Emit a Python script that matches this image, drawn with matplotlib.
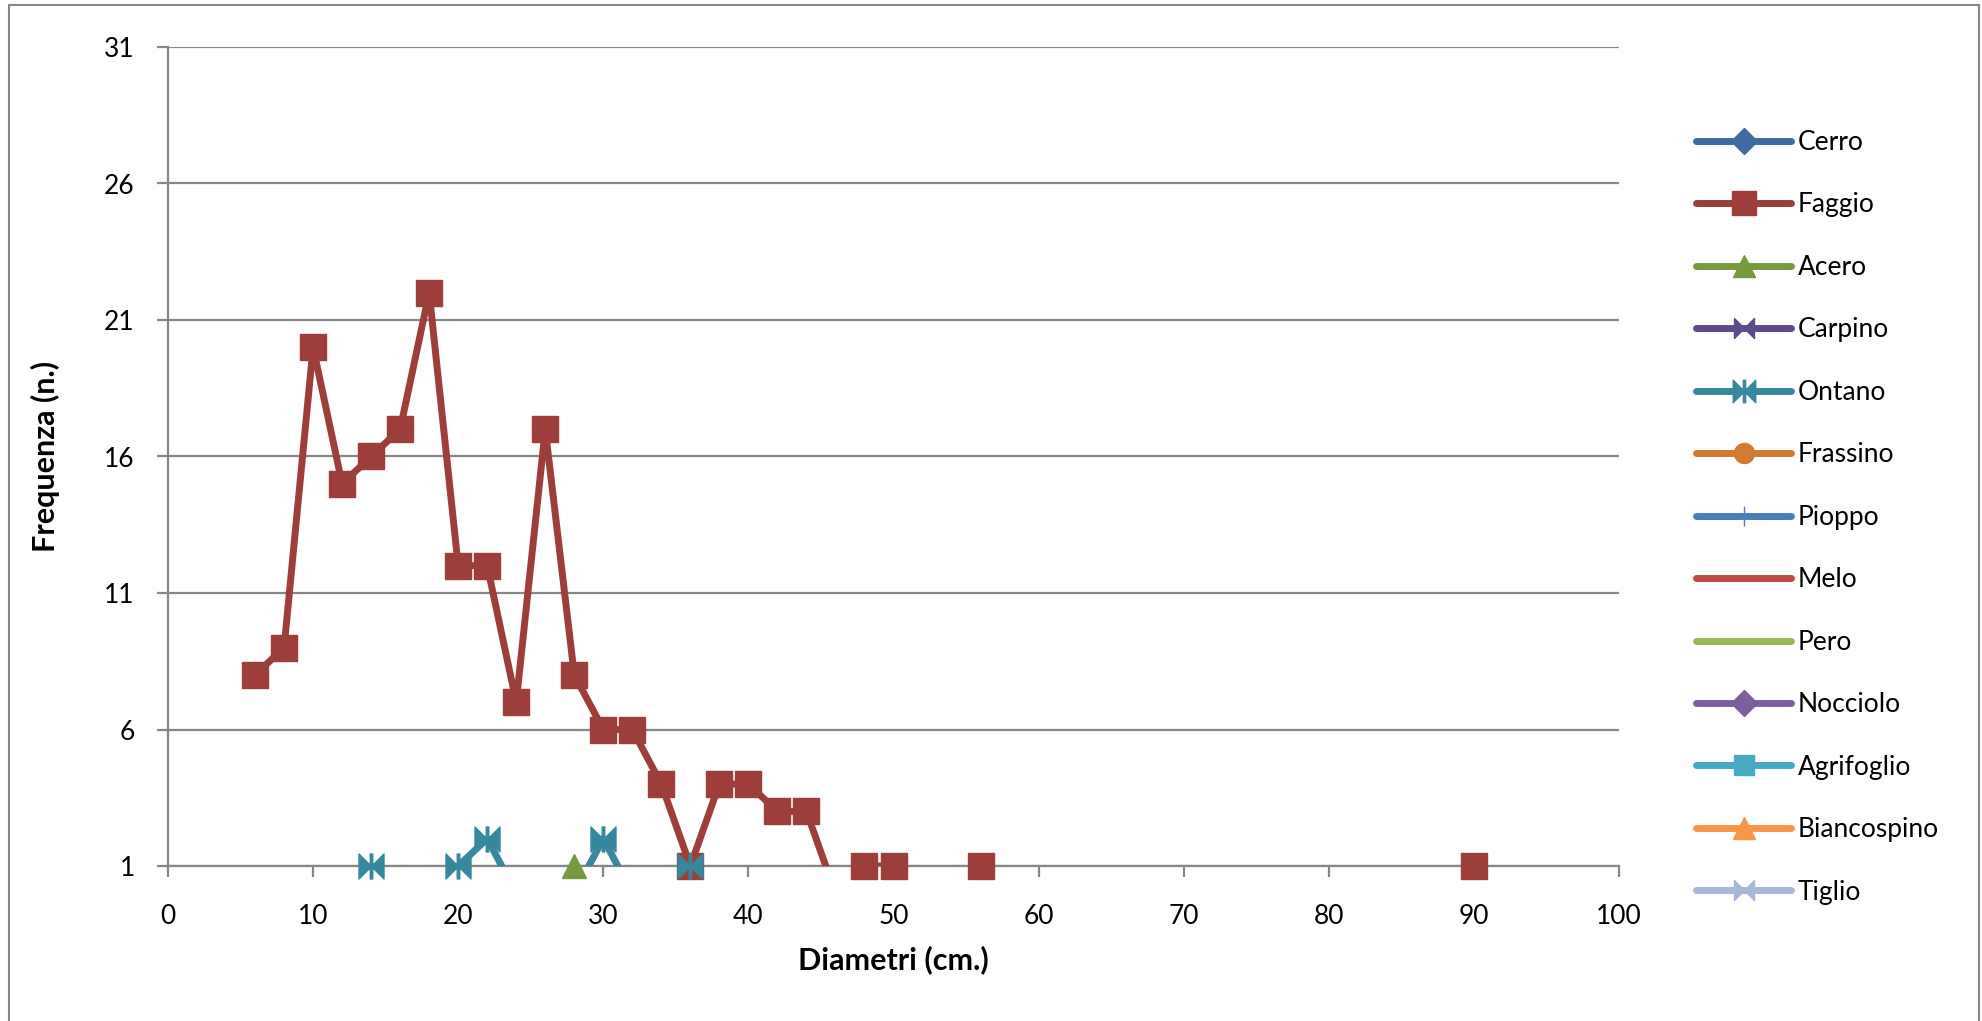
import matplotlib
matplotlib.use("Agg")
import matplotlib.pyplot as plt
from matplotlib.lines import Line2D
from matplotlib.patches import Rectangle
from matplotlib.path import Path
import numpy as np

plt.rcParams['font.family'] = ['Lato', 'DejaVu Sans']

# species in legend order
specie = ["Cerro", "Faggio", "Acero", "Carpino", "Ontano", "Frassino", "Pioppo",
          "Melo", "Pero", "Nocciolo", "Agrifoglio", "Biancospino", "Tiglio"]

# diameter classes (cm) and counts, only series with visible values
diam_faggio = [6, 8, 10, 12, 14, 16, 18, 20, 22, 24, 26, 28, 30, 32, 34, 36, 38, 40,
               42, 44, 46, 48, 50, 52, 54, 56, 58, 88, 90]
freq_faggio = [8, 9, 20, 15, 16, 17, 22, 12, 12, 7, 17, 8, 6, 6, 4, 1, 4, 4,
               3, 3, 0, 1, 1, 0, 0, 1, 0, 0, 1]

diam_ontano = [12, 14, 16, 18, 20, 22, 24, 28, 30, 32, 34, 36, 38]
freq_ontano = [0, 1, 0, 0, 1, 2, 0, 0, 2, 0, 0, 1, 0]

diam_acero = [28]
freq_acero = [1]

dati = {
    "Faggio": (diam_faggio, freq_faggio),
    "Ontano": (diam_ontano, freq_ontano),
    "Acero": (diam_acero, freq_acero),
}

# excel-like markers
bowtie = Path([(-1, -1), (-1, 1), (0, 0), (-1, -1),
               (1, 1), (1, -1), (0, 0), (1, 1)],
              [Path.MOVETO, Path.LINETO, Path.LINETO, Path.CLOSEPOLY,
               Path.MOVETO, Path.LINETO, Path.LINETO, Path.CLOSEPOLY])
star = Path([(-1, -1), (-1, 1), (0, 0), (-1, -1),
             (1, 1), (1, -1), (0, 0), (1, 1),
             (-0.1, -1), (-0.1, 1), (0.1, 1), (0.1, -1), (-0.1, -1)],
            [Path.MOVETO, Path.LINETO, Path.LINETO, Path.CLOSEPOLY,
             Path.MOVETO, Path.LINETO, Path.LINETO, Path.CLOSEPOLY,
             Path.MOVETO, Path.LINETO, Path.LINETO, Path.LINETO, Path.CLOSEPOLY])

stile = {
    "Cerro": ('#3F6BA3', 'D', 15),
    "Faggio": ('#9E3E3B', 's', 19),
    "Acero": ('#789A3F', '^', 17),
    "Carpino": ('#5E4A8A', bowtie, 16),
    "Ontano": ('#36889F', star, 18),
    "Frassino": ('#D17A30', 'o', 16),
    "Pioppo": ('#4A7EBB', '|', 16),
    "Melo": ('#BE4B48', None, 0),
    "Pero": ('#98B954', None, 0),
    "Nocciolo": ('#7D5FA0', 'D', 15),
    "Agrifoglio": ('#46AAC5', 's', 16),
    "Biancospino": ('#F79646', '^', 17),
    "Tiglio": ('#A5B8D8', bowtie, 16),
}

W, H = 1982, 1021
fig = plt.figure(figsize=(W / 100, H / 100), dpi=100)
ax = fig.add_axes([168 / W, 1 - 866 / H, (1619 - 168) / W, (866 - 47) / H])

handles = []
for nome in specie:
    col, mk, ms = stile[nome]
    if nome in dati:
        x = np.array(dati[nome][0])
        y = np.array(dati[nome][1])
        ax.plot(x, y, color=col, lw=5, solid_capstyle='round',
                solid_joinstyle='round', zorder=3)
        ok = y > 0
        ax.plot(x[ok], y[ok], ls='none', marker=mk, ms=ms, color=col,
                mec=col, mew=1, clip_on=False, zorder=4)
    handles.append(Line2D([], [], color=col, lw=5, solid_capstyle='round',
                          marker=mk, ms=ms * 0.9, mec=col, mew=1))

ax.set_xlim(0, 100)
ax.set_ylim(1, 31)
ax.set_xticks(np.arange(0, 101, 10))
ax.set_yticks(np.arange(1, 32, 5))
ax.grid(axis='y', color='#868686', lw=1.6)
ax.set_axisbelow(True)
for s in ['top', 'right']:
    ax.spines[s].set_visible(False)
for s in ['left', 'bottom']:
    ax.spines[s].set_color('#868686')
    ax.spines[s].set_linewidth(1.6)
ax.tick_params(axis='both', length=8, width=1.6, color='#868686',
               labelsize=19, labelcolor='black')
ax.tick_params(axis='x', pad=19)
ax.tick_params(axis='y', pad=16)

ax.set_xlabel("Diametri (cm.)", fontsize=22, fontweight='bold', labelpad=12)
ax.set_ylabel("Frequenza (n.)", fontsize=22, fontweight='bold', labelpad=32)

fig.legend(handles, specie, loc='upper left', bbox_to_anchor=(1696 / W, 1 - 130 / H),
           frameon=False, fontsize=19, handlelength=3.6, handletextpad=0.25,
           labelspacing=1.42, borderaxespad=0, borderpad=0)

fig.patches.append(Rectangle((9 / W, -0.02), (1979 - 9) / W, 1.02 - 5 / H,
                             transform=fig.transFigure, fill=False,
                             ec='#868686', lw=1.5))

fig.savefig("out.png", dpi=100)
